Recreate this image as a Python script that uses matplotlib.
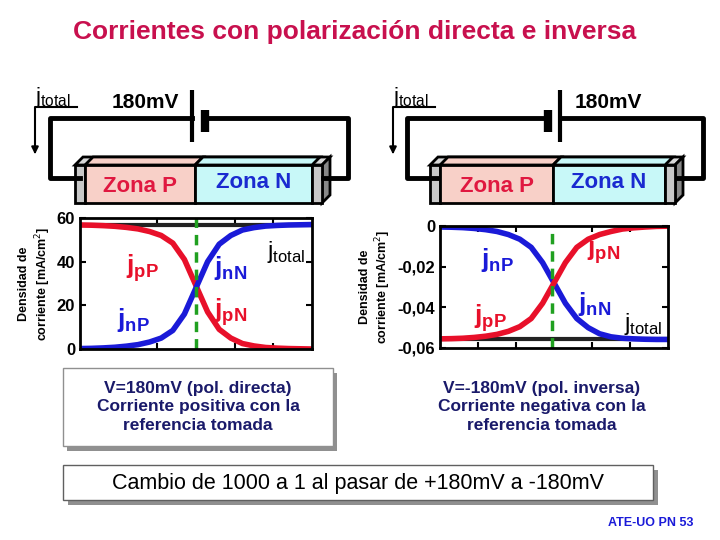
import matplotlib
matplotlib.use("Agg")
import matplotlib.pyplot as plt
from matplotlib.patches import Rectangle, Polygon

plt.rcParams['font.family'] = ['Liberation Sans', 'DejaVu Sans']

# data
pos = [0, .05, .1, .15, .2, .25, .3, .35, .4, .45, .5, .55, .6, .65, .7, .75, .8, .85, .9, .95, 1]
fwd_jn = [0.2, 0.3, 0.5, 0.8, 1.3, 2, 3.2, 5, 8.5, 16, 28, 40, 48, 52, 54.5, 55.6, 56.3, 56.6, 56.8, 56.9, 57]
fwd_jp = [56.8, 56.7, 56.5, 56.2, 55.7, 55, 53.8, 52, 48.5, 41, 29, 17, 9, 5, 2.5, 1.4, 0.7, 0.4, 0.2, 0.1, 0.0]
fwd_total = [57] * len(pos)
rev_jn = [-0.0005, -0.0006, -0.0008, -0.0012, -0.0018, -0.0027, -0.0042, -0.0065, -0.0105, -0.018, -0.028,
          -0.038, -0.0455, -0.05, -0.053, -0.0545, -0.0552, -0.0555, -0.0557, -0.0558, -0.0558]
rev_jp = [-0.0555, -0.0554, -0.0552, -0.0548, -0.0542, -0.0533, -0.0518, -0.0495, -0.0455, -0.038, -0.028,
          -0.018, -0.0105, -0.0065, -0.0042, -0.0027, -0.0015, -0.0009, -0.0005, -0.0002, -0.0001]
rev_total = [-0.0558] * len(pos)
fwd_ticks = [0, 20, 40, 60]
rev_ticks = [0, -0.02, -0.04, -0.06]
rev_ticklabels = ['0', '-0,02', '-0,04', '-0,06']

RED = '#e8102a'
BLUE = '#1a1ad8'
fig = plt.figure(figsize=(7.2, 5.4), dpi=100)
bg = fig.add_axes([0, 0, 1, 1])
bg.set_xlim(0, 720); bg.set_ylim(540, 0); bg.axis('off')

def B(x0, x1, y0, y1):
    return [x0 / 720, 1 - y1 / 540, (x1 - x0) / 720, (y1 - y0) / 540]

bold = dict(fontweight='bold')
bg.text(355, 32, 'Corrientes con polarización directa e inversa', ha='center', va='center',
        fontsize=19, color='#c8104e', **bold)

def circuit(xl, xr, plate1, plate2, lbl_x, ax_):
    k = dict(color='black', lw=3.5, solid_capstyle='projecting')
    wy = 118
    bg.plot([xl + 30, xl, xl, min(plate1, plate2)], [178, 178, wy, wy], **k)
    bg.plot([max(plate1, plate2), xr, xr, xr - 25], [wy, wy, 178, 178], **k)
    bg.plot([plate1, plate1], [90, 142], color='black', lw=3, solid_capstyle='butt')   # long plate
    bg.plot([plate2, plate2], [110, 132], color='black', lw=6, solid_capstyle='butt')  # short plate
    bg.text(lbl_x, 102, '180mV', fontsize=15, ha='center', va='center', fontweight='semibold')
    bg.text(ax_, 97, r'j$_{\mathregular{total}}$', fontsize=16, ha='left', va='center')
    bg.plot([ax_ + 42, ax_, ax_], [107, 107, 150], color='black', lw=1.5)
    bg.annotate('', xy=(ax_, 157), xytext=(ax_, 148),
                arrowprops=dict(arrowstyle='-|>', color='black', lw=1.5, mutation_scale=10))

def bar(x0, xm, x1):
    y0, y1, d = 165, 203, 8
    bg.add_patch(Polygon([[x0, y0], [x0 + d, y0 - d], [x1 + 10 + d, y0 - d], [x1 + 10, y0]],
                         fc='#d8d8d8', ec='black', lw=2))
    bg.add_patch(Polygon([[x0 + 10, y0], [x0 + 10 + d, y0 - d], [xm + d, y0 - d], [xm, y0]],
                         fc='#f8d0c8', ec='black', lw=2))
    bg.add_patch(Polygon([[xm, y0], [xm + d, y0 - d], [x1 + d, y0 - d], [x1, y0]],
                         fc='#c8f8f8', ec='black', lw=2))
    bg.add_patch(Polygon([[x1 + 10, y0], [x1 + 10 + d, y0 - d], [x1 + 10 + d, y1 - d], [x1 + 10, y1]],
                         fc='#888888', ec='black', lw=2))
    bg.add_patch(Rectangle((x0, y0), 10, y1 - y0, fc='#c8c8c8', ec='black', lw=2))
    bg.add_patch(Rectangle((x0 + 10, y0), xm - x0 - 10, y1 - y0, fc='#f8d0c8', ec='black', lw=2))
    bg.add_patch(Rectangle((xm, y0), x1 - xm, y1 - y0, fc='#c8f8f8', ec='black', lw=2))
    bg.add_patch(Rectangle((x1, y0), 10, y1 - y0, fc='#c8c8c8', ec='black', lw=2))
    bg.text((x0 + 10 + xm) / 2, 187, 'Zona P', color='#e01840', fontsize=16, ha='center', va='center', **bold)
    bg.text((xm + x1) / 2, 182, 'Zona N', color='#1a2ad0', fontsize=16, ha='center', va='center', **bold)

circuit(50, 348, 192, 205, 145, 35)
circuit(407, 703, 560, 548, 608, 393)
bar(75, 195, 312)
bar(430, 553, 665)

def jl(ax, x, y, sub, c, fs=19, w='bold'):
    ax.text(x, y, r'j$_{\mathregular{%s}}$' % sub, color=c, fontsize=fs, ha='center', va='center',
            transform=ax.transAxes, fontweight=w)

# forward plot
a1 = fig.add_axes(B(80, 312, 218, 349))
a1.plot(pos, fwd_total, color='#222222', lw=3)
a1.plot(pos, fwd_jp, color=RED, lw=4)
a1.plot(pos, fwd_jn, color=BLUE, lw=4)
a1.axvline(0.5, color='#20a020', lw=2.5, ls=(0, (3, 2)))
a1.set_xlim(0, 1); a1.set_ylim(0, 60)
a1.set_yticks(fwd_ticks)
a1.set_xticks([1/3, 2/3, 5/6])
a1.tick_params(axis='x', labelbottom=False, direction='in', length=4, width=1.5, top=True)
a1.tick_params(axis='y', direction='in', length=4, width=1.5, labelsize=12, right=True)
for t in a1.get_yticklabels(): t.set_fontweight('bold')
for s in a1.spines.values(): s.set_linewidth(2)
a1.set_ylabel('Densidad de\ncorriente [mA/cm$^2$]', fontsize=9, fontweight='bold', labelpad=3)
jl(a1, 0.27, 0.62, 'pP', RED)
jl(a1, 0.23, 0.22, 'nP', BLUE)
jl(a1, 0.65, 0.62, 'nN', BLUE)
jl(a1, 0.65, 0.28, 'pN', RED)
jl(a1, 0.89, 0.74, 'total', 'black', 17, 'normal')

# reverse plot
a2 = fig.add_axes(B(440, 668, 226, 348))
a2.plot(pos, rev_total, color='#222222', lw=3)
a2.plot(pos, rev_jn, color=BLUE, lw=4)
a2.plot(pos, rev_jp, color=RED, lw=4)
a2.axvline(0.49, color='#20a020', lw=2.5, ls=(0, (3, 2)))
a2.set_xlim(0, 1); a2.set_ylim(-0.06, 0)
a2.set_yticks(rev_ticks); a2.set_yticklabels(rev_ticklabels)
a2.set_xticks([1/6, 1/3, 2/3, 5/6])
a2.tick_params(axis='x', labelbottom=False, direction='in', length=4, width=1.5, top=True)
a2.tick_params(axis='y', direction='in', length=4, width=1.5, labelsize=12, right=True)
for t in a2.get_yticklabels(): t.set_fontweight('bold')
for s in a2.spines.values(): s.set_linewidth(2)
a2.set_ylabel('Densidad de\ncorriente [mA/cm$^2$]', fontsize=9, fontweight='bold', labelpad=3)
jl(a2, 0.25, 0.72, 'nP', BLUE)
jl(a2, 0.22, 0.25, 'pP', RED)
jl(a2, 0.72, 0.80, 'pN', RED)
jl(a2, 0.68, 0.36, 'nN', BLUE)
jl(a2, 0.89, 0.20, 'total', 'black', 17, 'normal')

# text boxes
bg.add_patch(Rectangle((67, 373), 270, 78, fc='#909090', ec='none'))
bg.add_patch(Rectangle((63, 368), 270, 78, fc='white', ec='#909090', lw=1))
bg.text(198, 407, 'V=180mV (pol. directa)\nCorriente positiva con la\nreferencia tomada',
        ha='center', va='center', fontsize=12.5, color='#1a1a6a', linespacing=1.25, **bold)
bg.text(542, 407, 'V=-180mV (pol. inversa)\nCorriente negativa con la\nreferencia tomada',
        ha='center', va='center', fontsize=12.5, color='#1a1a6a', linespacing=1.25, **bold)
bg.add_patch(Rectangle((68, 470), 590, 35, fc='#909090', ec='none'))
bg.add_patch(Rectangle((63, 465), 590, 35, fc='white', ec='#606060', lw=1))
bg.text(358, 484, 'Cambio de 1000 a 1 al pasar de +180mV a -180mV', ha='center', va='center',
        fontsize=15.5, color='black')
bg.text(651, 523, 'ATE-UO PN 53', ha='center', va='center', fontsize=9, color='#1a1ad8', **bold)

fig.savefig('out.png', dpi=100)
